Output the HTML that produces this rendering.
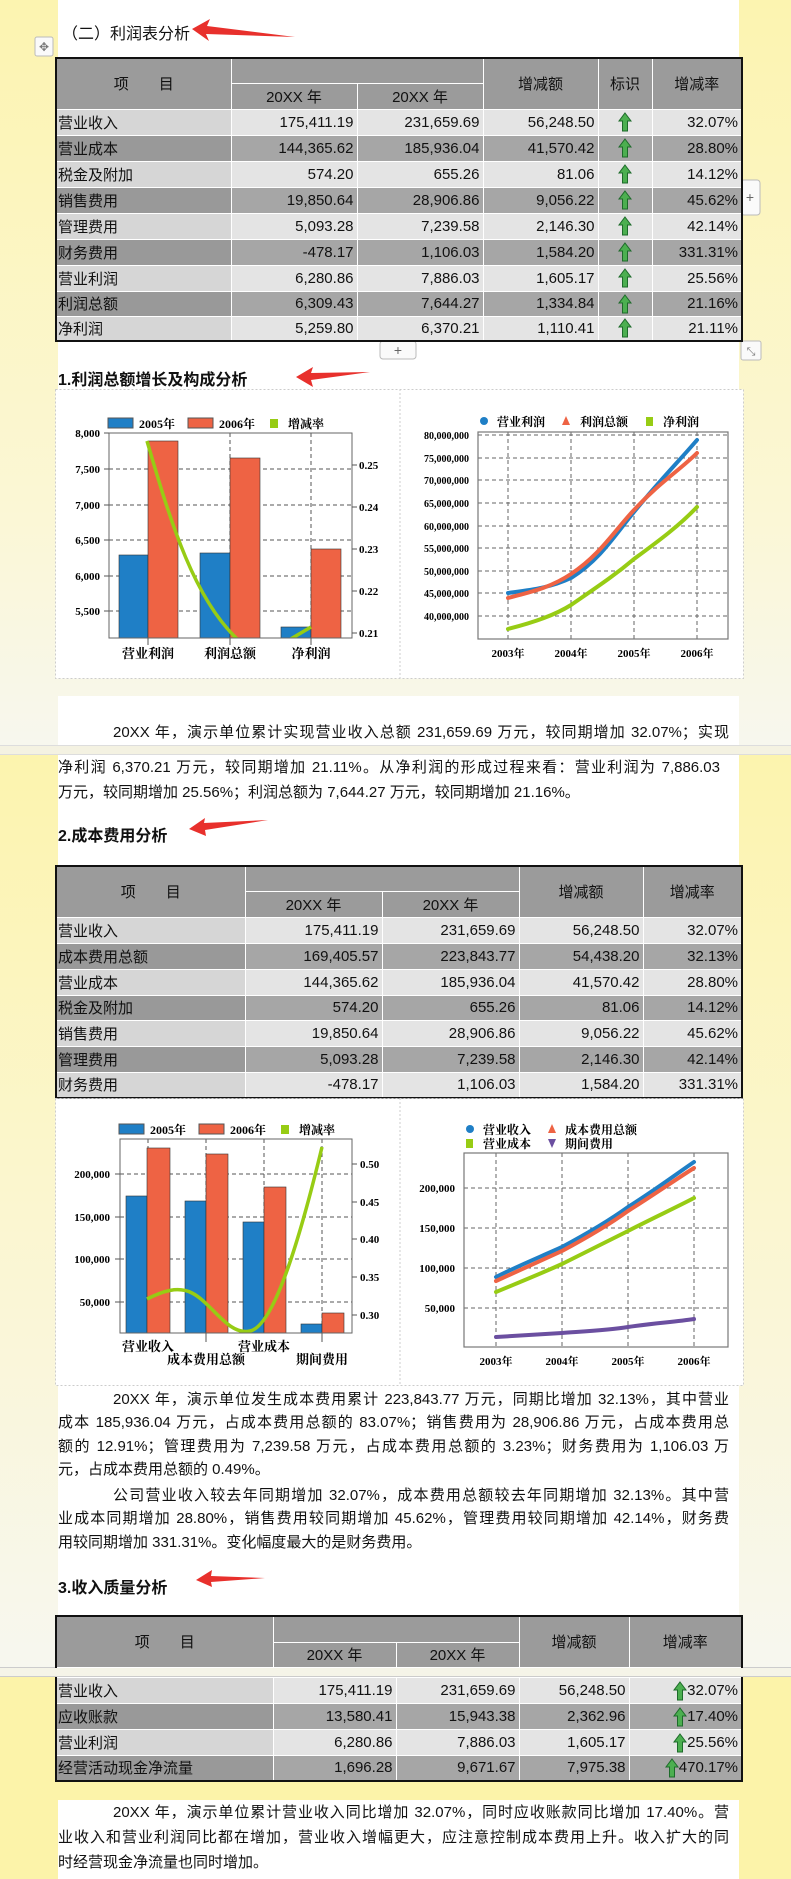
<!DOCTYPE html>
<html><head><meta charset="utf-8">
<style>
*{margin:0;padding:0;box-sizing:border-box}
body{width:791px;height:1879px;position:relative;overflow:hidden;background:#fcf4b0;font-family:"Liberation Sans","Noto Sans CJK SC",sans-serif;color:#111}
.a{position:absolute}
.w{position:absolute;left:58px;width:681px;background:#fff}
table{position:absolute;border-collapse:collapse;font-size:15px;table-layout:fixed}
td{border:1px solid #fff;padding:0 3px;white-space:nowrap;overflow:hidden}
.t{border:2px solid #111}
.h td{background:#9b9b9b;text-align:center}
.L td{background:#e4e4e4;text-align:right}
.L td:first-child{background:#d6d6d6;text-align:left;padding-left:1px}
.D td{background:#a6a6a6;text-align:right}
.D td:first-child{background:#999;text-align:left;padding-left:1px}
td.c{text-align:center!important}
.p{position:absolute;left:58px;width:671px;font-size:15px;line-height:18px;text-align:justify;text-align-last:justify;white-space:nowrap}
.p div{text-align:justify;text-align-last:justify;display:flex;justify-content:space-between}
h3{position:absolute;left:58px;font-size:16px;font-weight:bold}
.ar{display:inline-block;width:14px;height:20px;vertical-align:middle}
</style></head><body>
<!-- page backgrounds -->
<div class="a" style="left:0;top:0;width:791px;height:745px;background:linear-gradient(#fcf4b0,#fbf7d6 70%,#f7f7ee)"></div>
<div class="a" style="left:0;top:745px;width:791px;height:10px;background:#f4f2e2;border-top:1px solid #ddd;border-bottom:1px solid #ddd"></div>
<div class="a" style="left:0;top:755px;width:791px;height:912px;background:linear-gradient(#fcf4ae,#fbf6d0 50%,#f7f7ef)"></div>
<div class="a" style="left:0;top:1667px;width:791px;height:10px;background:#f5f4e8;border-top:1px solid #ccc;border-bottom:1px solid #ccc"></div>
<div class="a" style="left:0;top:1677px;width:791px;height:202px;background:#fcf3a9"></div>
<div class="w" style="top:0;height:678px"></div>
<div class="w" style="top:696px;height:49px"></div>
<div class="w" style="top:755px;height:912px"></div>
<div class="w" style="top:1800px;height:79px"></div>

<!-- headings & arrows -->
<div class="a" style="left:62px;top:20px;font-size:16px">（二）利润表分析</div>
<h3 style="top:366px">1.利润总额增长及构成分析</h3>
<h3 style="top:822px">2.成本费用分析</h3>
<h3 style="top:1574px">3.收入质量分析</h3>
<svg class="a" style="left:0;top:0" width="791" height="1879">
<g fill="#e8302c">
<polygon points="192,29 210,19 207,26 295,37 206,34 209,41"/>
<polygon points="296,377 313,367 311,373 370,372 311,380 313,387"/>
<polygon points="189,829 205,818 204,823 268,820 205,830 206,836"/>
<polygon points="196,1580 212,1570 211,1576 265,1578 211,1582 212,1587"/>
</g>
<!-- table handles -->
<rect x="35" y="37" width="18" height="19" rx="2" fill="#fafafa" stroke="#bbb"/>
<text x="44" y="51" font-size="12" text-anchor="middle" fill="#777">✥</text>
<rect x="741" y="180" width="19" height="35" rx="3" fill="#fafafa" stroke="#bbb"/>
<text x="750" y="202" font-size="14" text-anchor="middle" fill="#666">+</text>
<rect x="380" y="341" width="36" height="18" rx="3" fill="#fafafa" stroke="#bbb"/>
<text x="398" y="355" font-size="14" text-anchor="middle" fill="#666">+</text>
<rect x="741" y="341" width="20" height="19" rx="2" fill="#fafafa" stroke="#bbb"/>
<text x="751" y="355" font-size="11" text-anchor="middle" fill="#777">⤡</text>
</svg>

<!-- Table 1 -->
<table class="t" style="left:55px;top:57px;width:686px">
<colgroup><col style="width:175px"><col style="width:126px"><col style="width:126px"><col style="width:115px"><col style="width:54px"><col style="width:90px"></colgroup>
<tr class="h" style="height:25px"><td rowspan="2">项　　目</td><td colspan="2"></td><td rowspan="2">增减额</td><td rowspan="2">标识</td><td rowspan="2">增减率</td></tr>
<tr class="h" style="height:26px"><td>20XX 年</td><td>20XX 年</td></tr>
<tr class="L" style="height:26px"><td>营业收入</td><td>175,411.19</td><td>231,659.69</td><td>56,248.50</td><td class="c"><svg class="ar" viewBox="0 0 14 20"><polygon points="7,1 13,9 9.5,9 9.5,19 4.5,19 4.5,9 1,9" fill="#4caf50" stroke="#1d6b2a"/></svg></td><td>32.07%</td></tr>
<tr class="D" style="height:26px"><td>营业成本</td><td>144,365.62</td><td>185,936.04</td><td>41,570.42</td><td class="c"><svg class="ar" viewBox="0 0 14 20"><polygon points="7,1 13,9 9.5,9 9.5,19 4.5,19 4.5,9 1,9" fill="#4caf50" stroke="#1d6b2a"/></svg></td><td>28.80%</td></tr>
<tr class="L" style="height:26px"><td>税金及附加</td><td>574.20</td><td>655.26</td><td>81.06</td><td class="c"><svg class="ar" viewBox="0 0 14 20"><polygon points="7,1 13,9 9.5,9 9.5,19 4.5,19 4.5,9 1,9" fill="#4caf50" stroke="#1d6b2a"/></svg></td><td>14.12%</td></tr>
<tr class="D" style="height:26px"><td>销售费用</td><td>19,850.64</td><td>28,906.86</td><td>9,056.22</td><td class="c"><svg class="ar" viewBox="0 0 14 20"><polygon points="7,1 13,9 9.5,9 9.5,19 4.5,19 4.5,9 1,9" fill="#4caf50" stroke="#1d6b2a"/></svg></td><td>45.62%</td></tr>
<tr class="L" style="height:26px"><td>管理费用</td><td>5,093.28</td><td>7,239.58</td><td>2,146.30</td><td class="c"><svg class="ar" viewBox="0 0 14 20"><polygon points="7,1 13,9 9.5,9 9.5,19 4.5,19 4.5,9 1,9" fill="#4caf50" stroke="#1d6b2a"/></svg></td><td>42.14%</td></tr>
<tr class="D" style="height:26px"><td>财务费用</td><td>-478.17</td><td>1,106.03</td><td>1,584.20</td><td class="c"><svg class="ar" viewBox="0 0 14 20"><polygon points="7,1 13,9 9.5,9 9.5,19 4.5,19 4.5,9 1,9" fill="#4caf50" stroke="#1d6b2a"/></svg></td><td>331.31%</td></tr>
<tr class="L" style="height:26px"><td>营业利润</td><td>6,280.86</td><td>7,886.03</td><td>1,605.17</td><td class="c"><svg class="ar" viewBox="0 0 14 20"><polygon points="7,1 13,9 9.5,9 9.5,19 4.5,19 4.5,9 1,9" fill="#4caf50" stroke="#1d6b2a"/></svg></td><td>25.56%</td></tr>
<tr class="D" style="height:25px"><td>利润总额</td><td>6,309.43</td><td>7,644.27</td><td>1,334.84</td><td class="c"><svg class="ar" viewBox="0 0 14 20"><polygon points="7,1 13,9 9.5,9 9.5,19 4.5,19 4.5,9 1,9" fill="#4caf50" stroke="#1d6b2a"/></svg></td><td>21.16%</td></tr>
<tr class="L" style="height:25px"><td>净利润</td><td>5,259.80</td><td>6,370.21</td><td>1,110.41</td><td class="c"><svg class="ar" viewBox="0 0 14 20"><polygon points="7,1 13,9 9.5,9 9.5,19 4.5,19 4.5,9 1,9" fill="#4caf50" stroke="#1d6b2a"/></svg></td><td>21.11%</td></tr>
</table>

<!-- Table 2 -->
<table class="t" style="left:55px;top:865px;width:686px">
<colgroup><col style="width:189px"><col style="width:137px"><col style="width:137px"><col style="width:124px"><col style="width:99px"></colgroup>
<tr class="h" style="height:25px"><td rowspan="2">项　　目</td><td colspan="2"></td><td rowspan="2">增减额</td><td rowspan="2">增减率</td></tr>
<tr class="h" style="height:26px"><td>20XX 年</td><td>20XX 年</td></tr>
<tr class="L" style="height:26px"><td>营业收入</td><td>175,411.19</td><td>231,659.69</td><td>56,248.50</td><td>32.07%</td></tr>
<tr class="D" style="height:26px"><td>成本费用总额</td><td>169,405.57</td><td>223,843.77</td><td>54,438.20</td><td>32.13%</td></tr>
<tr class="L" style="height:26px"><td>营业成本</td><td>144,365.62</td><td>185,936.04</td><td>41,570.42</td><td>28.80%</td></tr>
<tr class="D" style="height:25px"><td>税金及附加</td><td>574.20</td><td>655.26</td><td>81.06</td><td>14.12%</td></tr>
<tr class="L" style="height:26px"><td>销售费用</td><td>19,850.64</td><td>28,906.86</td><td>9,056.22</td><td>45.62%</td></tr>
<tr class="D" style="height:26px"><td>管理费用</td><td>5,093.28</td><td>7,239.58</td><td>2,146.30</td><td>42.14%</td></tr>
<tr class="L" style="height:26px"><td>财务费用</td><td>-478.17</td><td>1,106.03</td><td>1,584.20</td><td>331.31%</td></tr>
</table>

<!-- Table 3 -->
<table class="t" style="left:55px;top:1615px;width:686px;border-bottom:none">
<colgroup><col style="width:217px"><col style="width:123px"><col style="width:123px"><col style="width:110px"><col style="width:113px"></colgroup>
<tr class="h" style="height:26px"><td rowspan="2">项　　目</td><td colspan="2"></td><td rowspan="2">增减额</td><td rowspan="2">增减率</td></tr>
<tr class="h" style="height:25px"><td>20XX 年</td><td>20XX 年</td></tr>
</table>
<table class="t" style="left:55px;top:1677px;width:686px;border-top:none">
<colgroup><col style="width:217px"><col style="width:123px"><col style="width:123px"><col style="width:110px"><col style="width:113px"></colgroup>
<tr class="L" style="height:26px"><td>营业收入</td><td>175,411.19</td><td>231,659.69</td><td>56,248.50</td><td><svg class="ar" viewBox="0 0 14 20"><polygon points="7,1 13,9 9.5,9 9.5,19 4.5,19 4.5,9 1,9" fill="#4caf50" stroke="#1d6b2a"/></svg>32.07%</td></tr>
<tr class="D" style="height:26px"><td>应收账款</td><td>13,580.41</td><td>15,943.38</td><td>2,362.96</td><td><svg class="ar" viewBox="0 0 14 20"><polygon points="7,1 13,9 9.5,9 9.5,19 4.5,19 4.5,9 1,9" fill="#4caf50" stroke="#1d6b2a"/></svg>17.40%</td></tr>
<tr class="L" style="height:26px"><td>营业利润</td><td>6,280.86</td><td>7,886.03</td><td>1,605.17</td><td><svg class="ar" viewBox="0 0 14 20"><polygon points="7,1 13,9 9.5,9 9.5,19 4.5,19 4.5,9 1,9" fill="#4caf50" stroke="#1d6b2a"/></svg>25.56%</td></tr>
<tr class="D" style="height:25px"><td>经营活动现金净流量</td><td>1,696.28</td><td>9,671.67</td><td>7,975.38</td><td><svg class="ar" viewBox="0 0 14 20"><polygon points="7,1 13,9 9.5,9 9.5,19 4.5,19 4.5,9 1,9" fill="#4caf50" stroke="#1d6b2a"/></svg>470.17%</td></tr>
</table>

<!-- Paragraphs -->
<div class="p" style="top:724px;padding-left:55px">20XX 年，演示单位累计实现营业收入总额 231,659.69 万元，较同期增加 32.07%；实现</div>
<div class="p" style="top:759px;width:662px">净利润 6,370.21 万元，较同期增加 21.11%。从净利润的形成过程来看：营业利润为 7,886.03</div>
<div class="a" style="left:58px;top:784px;font-size:15px;line-height:18px;white-space:nowrap">万元，较同期增加 25.56%；利润总额为 7,644.27 万元，较同期增加 21.16%。</div>

<div class="p" style="top:1391px;padding-left:55px">20XX 年，演示单位发生成本费用累计 223,843.77 万元，同期比增加 32.13%，其中营业</div>
<div class="p" style="top:1414px">成本 185,936.04 万元，占成本费用总额的 83.07%；销售费用为 28,906.86 万元，占成本费用总</div>
<div class="p" style="top:1438px">额的 12.91%；管理费用为 7,239.58 万元，占成本费用总额的 3.23%；财务费用为 1,106.03 万</div>
<div class="a" style="left:58px;top:1461px;font-size:15px;line-height:18px;white-space:nowrap">元，占成本费用总额的 0.49%。</div>
<div class="p" style="top:1487px;padding-left:55px">公司营业收入较去年同期增加 32.07%，成本费用总额较去年同期增加 32.13%。其中营</div>
<div class="p" style="top:1510px">业成本同期增加 28.80%，销售费用较同期增加 45.62%，管理费用较同期增加 42.14%，财务费</div>
<div class="a" style="left:58px;top:1534px;font-size:15px;line-height:18px;white-space:nowrap">用较同期增加 331.31%。变化幅度最大的是财务费用。</div>

<div class="p" style="top:1804px;padding-left:55px">20XX 年，演示单位累计营业收入同比增加 32.07%，同时应收账款同比增加 17.40%。营</div>
<div class="p" style="top:1829px">业收入和营业利润同比都在增加，营业收入增幅更大，应注意控制成本费用上升。收入扩大的同</div>
<div class="a" style="left:58px;top:1854px;font-size:15px;line-height:18px;white-space:nowrap">时经营现金净流量也同时增加。</div>

<!-- Charts -->
<svg class="a" style="left:0;top:0" width="791" height="1879" font-family="Liberation Serif,Noto Serif CJK SC,serif" font-weight="bold">
<defs>
<clipPath id="c1"><rect x="109" y="433" width="243" height="205"/></clipPath>
<clipPath id="c3"><rect x="120" y="1139" width="232" height="194"/></clipPath>
</defs>
<!-- chart 1 boxes -->
<rect x="55.5" y="389.5" width="688" height="289" fill="#fff" stroke="#ccc" stroke-dasharray="2,2"/>
<line x1="400" y1="389" x2="400" y2="678" stroke="#ccc" stroke-dasharray="2,2"/>
<!-- left chart 1 -->
<g font-size="12">
<rect x="108" y="418" width="25" height="10" fill="#1f7fc6" stroke="#555"/><text x="139" y="428">2005年</text>
<rect x="188" y="418" width="25" height="10" fill="#ee6344" stroke="#555"/><text x="219" y="428">2006年</text>
<rect x="270" y="419" width="8" height="9" fill="#97cc14"/><text x="288" y="428">增减率</text>
</g>
<g stroke="#555" stroke-dasharray="4,3" stroke-width="1">
<line x1="109" y1="469" x2="352" y2="469"/><line x1="109" y1="505" x2="352" y2="505"/><line x1="109" y1="540" x2="352" y2="540"/><line x1="109" y1="576" x2="352" y2="576"/><line x1="109" y1="611" x2="352" y2="611"/>
<line x1="230" y1="433" x2="230" y2="638"/><line x1="311" y1="433" x2="311" y2="638"/>
</g>
<g stroke="#333" stroke-width="0.6">
<rect x="119" y="555" width="29" height="83" fill="#1f7fc6"/><rect x="148" y="441" width="30" height="197" fill="#ee6344"/>
<rect x="200" y="553" width="30" height="85" fill="#1f7fc6"/><rect x="230" y="458" width="30" height="180" fill="#ee6344"/>
<rect x="281" y="627" width="30" height="11" fill="#1f7fc6"/><rect x="311" y="549" width="30" height="89" fill="#ee6344"/>
</g>
<g clip-path="url(#c1)" fill="none" stroke="#97cc14" stroke-width="3.5">
<path d="M147,441 C170,520 195,605 244,645"/><path d="M289,640 L311,627"/>
</g>
<rect x="109" y="433" width="243" height="205" fill="none" stroke="#666"/>
<g stroke="#555"><line x1="104" y1="433" x2="109" y2="433"/><line x1="104" y1="469" x2="109" y2="469"/><line x1="104" y1="505" x2="109" y2="505"/><line x1="104" y1="540" x2="109" y2="540"/><line x1="104" y1="576" x2="109" y2="576"/><line x1="104" y1="611" x2="109" y2="611"/>
<line x1="352" y1="465" x2="357" y2="465"/><line x1="352" y1="507" x2="357" y2="507"/><line x1="352" y1="549" x2="357" y2="549"/><line x1="352" y1="591" x2="357" y2="591"/><line x1="352" y1="633" x2="357" y2="633"/>
<line x1="148" y1="638" x2="148" y2="645"/><line x1="230" y1="638" x2="230" y2="645"/><line x1="311" y1="638" x2="311" y2="645"/></g>
<g font-size="11" text-anchor="end"><text x="100" y="437">8,000</text><text x="100" y="473">7,500</text><text x="100" y="509">7,000</text><text x="100" y="544">6,500</text><text x="100" y="580">6,000</text><text x="100" y="615">5,500</text></g>
<g font-size="11"><text x="359" y="469">0.25</text><text x="359" y="511">0.24</text><text x="359" y="553">0.23</text><text x="359" y="595">0.22</text><text x="359" y="637">0.21</text></g>
<g font-size="13" text-anchor="middle"><text x="148" y="658">营业利润</text><text x="230" y="658">利润总额</text><text x="311" y="658">净利润</text></g>
<!-- right chart 1 -->
<g font-size="12">
<circle cx="484" cy="421" r="4" fill="#1f7fc6"/><text x="497" y="426">营业利润</text>
<polygon points="566,416 570,425 562,425" fill="#ee6344"/><text x="580" y="426">利润总额</text>
<rect x="646" y="417" width="7" height="9" fill="#97cc14"/><text x="663" y="426">净利润</text>
</g>
<g stroke="#666" stroke-dasharray="4,3">
<line x1="478" y1="435" x2="728" y2="435"/><line x1="478" y1="458" x2="728" y2="458"/><line x1="478" y1="480" x2="728" y2="480"/><line x1="478" y1="503" x2="728" y2="503"/><line x1="478" y1="526" x2="728" y2="526"/><line x1="478" y1="548" x2="728" y2="548"/><line x1="478" y1="571" x2="728" y2="571"/><line x1="478" y1="593" x2="728" y2="593"/><line x1="478" y1="616" x2="728" y2="616"/>
<line x1="508" y1="432" x2="508" y2="639"/><line x1="571" y1="432" x2="571" y2="639"/><line x1="634" y1="432" x2="634" y2="639"/><line x1="697" y1="432" x2="697" y2="639"/>
</g>
<rect x="478" y="432" width="250" height="207" fill="none" stroke="#777" stroke-width="1.2"/>
<g fill="none" stroke-width="4" stroke-linecap="round">
<path d="M508,629 C535,622 555,615 571,605 C600,585 615,575 634,559 C660,540 680,525 697,507" stroke="#97cc14"/>
<path d="M508,593 C530,590 550,588 571,578 C600,560 615,535 634,512 C660,480 680,460 697,440" stroke="#1f7fc6"/>
<path d="M508,598 C530,592 550,588 571,574 C600,555 615,530 634,510 C660,482 680,470 697,453" stroke="#ee6344"/>
</g>
<g font-size="10" text-anchor="end"><text x="469" y="439">80,000,000</text><text x="469" y="462">75,000,000</text><text x="469" y="484">70,000,000</text><text x="469" y="507">65,000,000</text><text x="469" y="530">60,000,000</text><text x="469" y="552">55,000,000</text><text x="469" y="575">50,000,000</text><text x="469" y="597">45,000,000</text><text x="469" y="620">40,000,000</text></g>
<g font-size="11" text-anchor="middle"><text x="508" y="657">2003年</text><text x="571" y="657">2004年</text><text x="634" y="657">2005年</text><text x="697" y="657">2006年</text></g>

<!-- chart 2 boxes -->
<rect x="55.5" y="1098.5" width="688" height="287" fill="#fff" stroke="#ccc" stroke-dasharray="2,2"/>
<line x1="400" y1="1098" x2="400" y2="1385" stroke="#ccc" stroke-dasharray="2,2"/>
<g font-size="12">
<rect x="119" y="1124" width="25" height="10" fill="#1f7fc6" stroke="#555"/><text x="150" y="1134">2005年</text>
<rect x="199" y="1124" width="25" height="10" fill="#ee6344" stroke="#555"/><text x="230" y="1134">2006年</text>
<rect x="281" y="1125" width="8" height="9" fill="#97cc14"/><text x="299" y="1134">增减率</text>
</g>
<g stroke="#555" stroke-dasharray="4,3">
<line x1="120" y1="1174" x2="352" y2="1174"/><line x1="120" y1="1217" x2="352" y2="1217"/><line x1="120" y1="1259" x2="352" y2="1259"/><line x1="120" y1="1302" x2="352" y2="1302"/>
<line x1="148" y1="1139" x2="148" y2="1333"/><line x1="206" y1="1139" x2="206" y2="1333"/><line x1="264" y1="1139" x2="264" y2="1333"/><line x1="322" y1="1139" x2="322" y2="1333"/>
</g>
<g stroke="#333" stroke-width="0.6">
<rect x="126" y="1196" width="21" height="137" fill="#1f7fc6"/><rect x="147" y="1148" width="23" height="185" fill="#ee6344"/>
<rect x="185" y="1201" width="21" height="132" fill="#1f7fc6"/><rect x="206" y="1154" width="22" height="179" fill="#ee6344"/>
<rect x="243" y="1222" width="21" height="111" fill="#1f7fc6"/><rect x="264" y="1187" width="22" height="146" fill="#ee6344"/>
<rect x="301" y="1324" width="21" height="9" fill="#1f7fc6"/><rect x="322" y="1313" width="22" height="20" fill="#ee6344"/>
</g>
<path clip-path="url(#c3)" d="M147,1299 C163,1291 178,1286 192,1293 C212,1303 228,1336 250,1331 C275,1326 302,1230 322,1147" fill="none" stroke="#97cc14" stroke-width="3.5"/>
<rect x="120" y="1139" width="232" height="194" fill="none" stroke="#666"/>
<g stroke="#555"><line x1="115" y1="1174" x2="120" y2="1174"/><line x1="115" y1="1217" x2="120" y2="1217"/><line x1="115" y1="1259" x2="120" y2="1259"/><line x1="115" y1="1302" x2="120" y2="1302"/>
<line x1="352" y1="1164" x2="357" y2="1164"/><line x1="352" y1="1202" x2="357" y2="1202"/><line x1="352" y1="1239" x2="357" y2="1239"/><line x1="352" y1="1277" x2="357" y2="1277"/><line x1="352" y1="1315" x2="357" y2="1315"/>
<line x1="206" y1="1333" x2="206" y2="1342"/><line x1="322" y1="1333" x2="322" y2="1342"/></g>
<g font-size="11" text-anchor="end"><text x="110" y="1178">200,000</text><text x="110" y="1221">150,000</text><text x="110" y="1263">100,000</text><text x="110" y="1306">50,000</text></g>
<g font-size="11"><text x="360" y="1168">0.50</text><text x="360" y="1206">0.45</text><text x="360" y="1243">0.40</text><text x="360" y="1281">0.35</text><text x="360" y="1319">0.30</text></g>
<g font-size="13" text-anchor="middle"><text x="148" y="1351">营业收入</text><text x="206" y="1364">成本费用总额</text><text x="264" y="1351">营业成本</text><text x="322" y="1364">期间费用</text></g>
<!-- right chart 2 -->
<g font-size="12">
<circle cx="470" cy="1129" r="4" fill="#1f7fc6"/><text x="483" y="1134">营业收入</text>
<polygon points="552,1124 556,1133 548,1133" fill="#ee6344"/><text x="565" y="1134">成本费用总额</text>
<rect x="466" y="1139" width="7" height="9" fill="#97cc14"/><text x="483" y="1148">营业成本</text>
<polygon points="548,1139 556,1139 552,1148" fill="#6b4fa0"/><text x="565" y="1148">期间费用</text>
</g>
<g stroke="#666" stroke-dasharray="4,3">
<line x1="464" y1="1188" x2="728" y2="1188"/><line x1="464" y1="1228" x2="728" y2="1228"/><line x1="464" y1="1268" x2="728" y2="1268"/><line x1="464" y1="1308" x2="728" y2="1308"/>
<line x1="496" y1="1153" x2="496" y2="1347"/><line x1="562" y1="1153" x2="562" y2="1347"/><line x1="628" y1="1153" x2="628" y2="1347"/><line x1="694" y1="1153" x2="694" y2="1347"/>
</g>
<rect x="464" y="1153" width="264" height="194" fill="none" stroke="#777" stroke-width="1.2"/>
<g fill="none" stroke-width="4" stroke-linecap="round">
<path d="M496,1337 L562,1333 C590,1331 610,1330 628,1327 C655,1323 675,1322 694,1319" stroke="#6b4fa0"/>
<path d="M496,1292 C520,1282 540,1274 562,1264 C590,1250 610,1240 628,1231 C655,1217 675,1208 694,1198" stroke="#97cc14"/>
<path d="M496,1277 C520,1265 540,1257 562,1247 C590,1232 610,1220 628,1207 C655,1190 675,1175 694,1162" stroke="#1f7fc6"/>
<path d="M496,1281 C520,1270 540,1261 562,1251 C590,1236 610,1224 628,1211 C655,1194 675,1180 694,1168" stroke="#ee6344"/>
</g>
<g font-size="11" text-anchor="end"><text x="455" y="1192">200,000</text><text x="455" y="1232">150,000</text><text x="455" y="1272">100,000</text><text x="455" y="1312">50,000</text></g>
<g font-size="11" text-anchor="middle"><text x="496" y="1365">2003年</text><text x="562" y="1365">2004年</text><text x="628" y="1365">2005年</text><text x="694" y="1365">2006年</text></g>
</svg>
</body></html>
